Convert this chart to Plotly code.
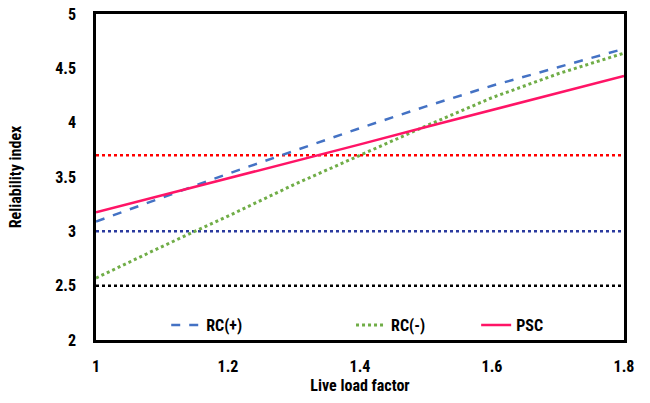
import plotly.graph_objects as go

live_load_factor = [1.0, 1.1, 1.2, 1.3, 1.4, 1.5, 1.6, 1.7, 1.8]
rc_plus = [3.09, 3.31, 3.53, 3.74, 3.95, 4.15, 4.34, 4.51, 4.68]
rc_minus = [2.57, 2.86, 3.14, 3.43, 3.70, 3.97, 4.23, 4.45, 4.64]
psc = [3.175, 3.33, 3.49, 3.645, 3.80, 3.96, 4.115, 4.27, 4.43]

target_x = [1.0, 1.8]
target_red = [3.7, 3.7]
target_blue = [3.0, 3.0]
target_black = [2.5, 2.5]

font_fam = "Liberation Sans Narrow, Arial Narrow, Roboto Condensed, Roboto, sans-serif"

fig = go.Figure()
fig.add_trace(go.Scatter(x=target_x, y=target_red, mode="lines", showlegend=False,
                         line=dict(color="#FF0000", width=2.5, dash="dot")))
fig.add_trace(go.Scatter(x=target_x, y=target_blue, mode="lines", showlegend=False,
                         line=dict(color="#2B3A9E", width=2.5, dash="dot")))
fig.add_trace(go.Scatter(x=target_x, y=target_black, mode="lines", showlegend=False,
                         line=dict(color="#000000", width=2.5, dash="dot")))
fig.add_trace(go.Scatter(x=live_load_factor, y=rc_plus, mode="lines", name="RC(+)", legend="legend",
                         line=dict(color="#4472C4", width=2.5, dash="dash")))
fig.add_trace(go.Scatter(x=live_load_factor, y=rc_minus, mode="lines", name="RC(-)", legend="legend2",
                         line=dict(color="#70AD47", width=3, dash="dot")))
fig.add_trace(go.Scatter(x=live_load_factor, y=psc, mode="lines", name="PSC", legend="legend3",
                         line=dict(color="#FF1466", width=2.5)))

leg_font = dict(family=font_fam, size=16, color="black", weight="bold")
leg_common = dict(orientation="h", y=0.046, xanchor="left", yanchor="middle",
                  font=leg_font, bgcolor="rgba(0,0,0,0)")

fig.update_layout(
    width=650, height=403,
    margin=dict(l=96, r=26, t=14, b=63, autoexpand=False),
    plot_bgcolor="white", paper_bgcolor="white",
    font=dict(family=font_fam, size=16, color="black"),
    showlegend=True,
    legend=dict(x=0.133, **leg_common),
    legend2=dict(x=0.483, **leg_common),
    legend3=dict(x=0.72, **leg_common),
)
fig.update_xaxes(range=[1, 1.8], tickvals=[1, 1.2, 1.4, 1.6, 1.8], ticktext=["1", "1.2", "1.4", "1.6", "1.8"],
                 showgrid=False, zeroline=False, showline=True, linecolor="black", linewidth=2.5, mirror=True,
                 ticks="", tickfont=dict(size=16, weight="bold"), ticklabelstandoff=10, automargin=False,
                 title=dict(text="<b>Live load factor</b>", font=dict(size=16), standoff=4))
fig.update_yaxes(range=[2, 5], tickvals=[2, 2.5, 3, 3.5, 4, 4.5, 5], ticktext=["2", "2.5", "3", "3.5", "4", "4.5", "5"],
                 showgrid=False, zeroline=False, showline=True, linecolor="black", linewidth=2.5, mirror=True,
                 ticks="", tickfont=dict(size=16, weight="bold"), ticklabelstandoff=14, automargin=False,
                 title=dict(text="<b>Reliability index</b>", font=dict(size=16), standoff=30))

fig.write_html("out.html", config={"displayModeBar": False},
               post_script="document.body.style.margin='0';")
